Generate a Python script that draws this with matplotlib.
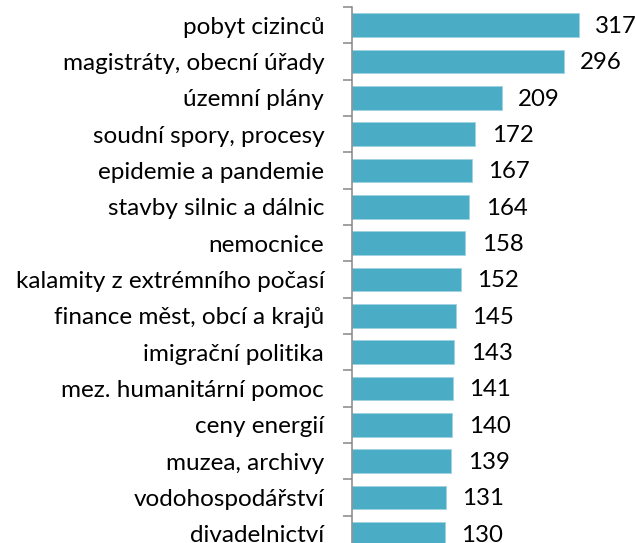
import matplotlib
matplotlib.use("Agg")
import matplotlib.pyplot as plt
import numpy as np

categories = [
    "pobyt cizinců", "magistráty, obecní úřady", "územní plány",
    "soudní spory, procesy", "epidemie a pandemie", "stavby silnic a dálnic",
    "nemocnice", "kalamity z extrémního počasí", "finance měst, obcí a krajů",
    "imigrační politika", "mez. humanitární pomoc", "ceny energií",
    "muzea, archivy", "vodohospodářství", "divadelnictví",
]
values = [317, 296, 209, 172, 167, 164, 158, 152, 145, 143, 141, 140, 139, 131, 130]

plt.rcParams['font.family'] = ['Lato', 'DejaVu Sans']

fig = plt.figure(figsize=(6.36, 5.43), dpi=100)
# axis line sits at x=352 px, first boundary at y=7 px, 36.33 px per row
ax = fig.add_axes([352 / 636, (543 - 552) / 543, 272 / 636, 545 / 543])

y = np.arange(len(categories))
ax.barh(y, values, height=0.66, color="#4BACC6", edgecolor="#9fd3e2", linewidth=0.6)

for yi, v in zip(y, values):
    ax.text(v + 23, yi + 0.04, str(v), va="center", ha="left", fontsize=17.3, color="black")

ax.set_xlim(0, 380)
ax.set_ylim(len(categories) - 0.5, -0.5)

ax.set_yticks(y)
ax.set_yticklabels(categories, fontsize=17.5)
ax.tick_params(axis="y", which="major", length=0, pad=20)
ax.set_yticks(np.arange(-0.5, len(categories), 1), minor=True)
ax.tick_params(axis="y", which="minor", length=6.5, width=1.1, color="#868686")
ax.set_xticks([])

for s in ["top", "right", "bottom"]:
    ax.spines[s].set_visible(False)
ax.spines["left"].set_color("#868686")
ax.spines["left"].set_linewidth(1.1)

fig.savefig("out.png", dpi=100)
